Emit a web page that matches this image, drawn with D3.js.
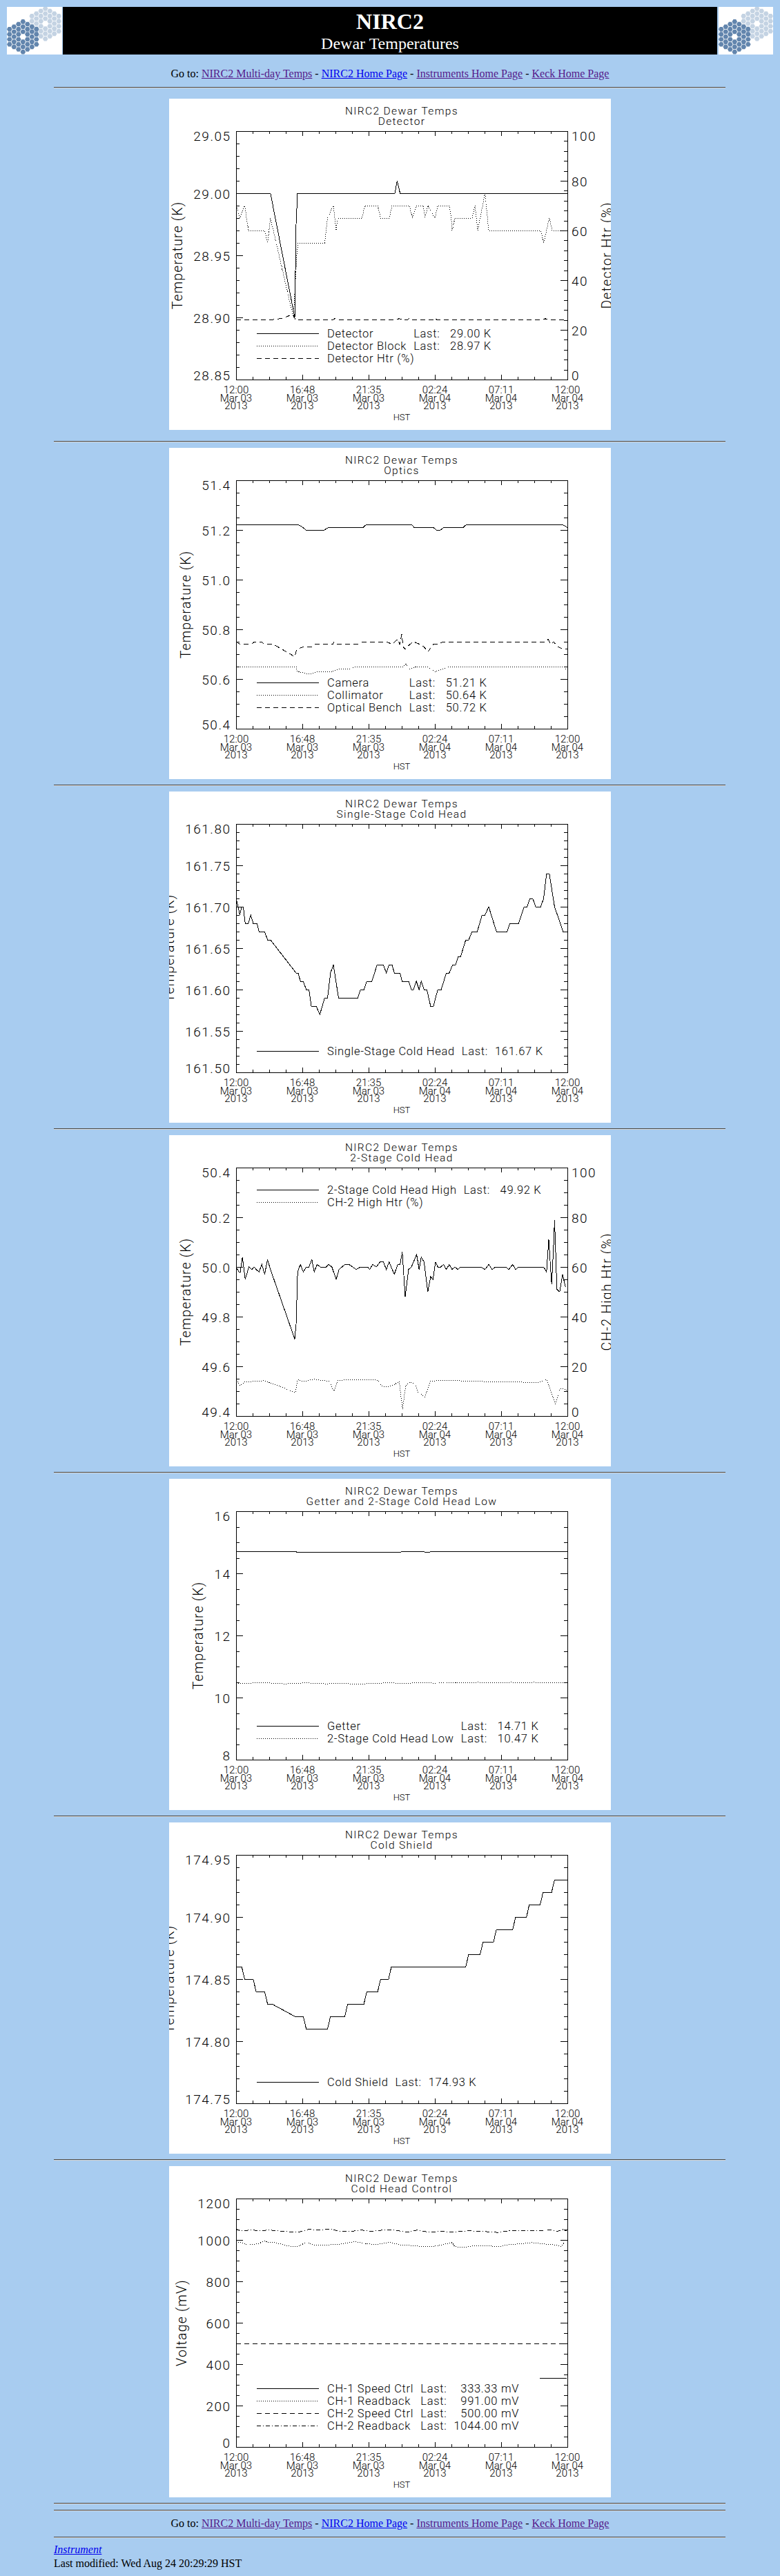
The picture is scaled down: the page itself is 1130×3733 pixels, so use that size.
<!DOCTYPE html>
<html>
<head>
<meta charset="utf-8">
<title>NIRC2 Dewar Temperatures</title>
<script src="https://cdnjs.cloudflare.com/ajax/libs/d3/7.8.5/d3.min.js"></script>
<style>
  body { margin: 0; background: #a8ccf0; font-family: "Liberation Serif", "Times New Roman", serif; font-size: 16px; color: #000; }
  #page { position: relative; width: 1130px; height: 3733px; overflow: hidden; }
  #page > svg, #page > div { position: absolute; }
  .banner { left: 91px; top: 10px; width: 948px; height: 69px; background: #000; color: #fff; text-align: center; }
  .banner .big { position: absolute; left: 0; right: 0; top: 3px; font-size: 32px; line-height: 36px; font-weight: bold; }
  .banner .sub { position: absolute; left: 0; right: 0; top: 39px; font-size: 24px; line-height: 28px; }
  .rule { left: 78px; width: 973px; height: 0; border-top: 1px solid #4a4a4a; border-bottom: 1px solid #d4d4d4; }
  .nav { left: 0; width: 1130px; text-align: center; line-height: 20px; }
  .foot { left: 78px; line-height: 20px; white-space: nowrap; }
  a { text-decoration: underline; }
  a.seen { color: #551a8b; }
  a.fresh { color: #0000ee; }
  .plot text { font-family: Roboto, "DejaVu Sans", sans-serif; font-weight: 300; fill: #000; }
  .plot .tk { font-size: 19px; letter-spacing: 1.5px; }
  .plot .xl { font-size: 15px; }
  .plot .ttl { font-size: 15.5px; letter-spacing: 1.35px; }
  .plot .lg { font-size: 16.5px; letter-spacing: 0.7px; white-space: pre; }
  .plot .at { font-size: 19.5px; letter-spacing: 1.2px; }
  .plot .hst { font-size: 13px; }
</style>
</head>
<body>
<div id="page">
  <div class="banner">
    <div class="big">NIRC2</div>
    <div class="sub">Dewar Temperatures</div>
  </div>
  <div class="nav" style="top:97px">Go to: <a class="seen" href="#">NIRC2 Multi-day Temps</a> - <a class="fresh" href="#">NIRC2 Home Page</a> - <a class="seen" href="#">Instruments Home Page</a> - <a class="seen" href="#">Keck Home Page</a></div>
  <div class="nav" style="top:3647px">Go to: <a class="seen" href="#">NIRC2 Multi-day Temps</a> - <a class="fresh" href="#">NIRC2 Home Page</a> - <a class="seen" href="#">Instruments Home Page</a> - <a class="seen" href="#">Keck Home Page</a></div>
  <div class="foot" style="top:3685px"><a class="fresh" href="#"><i>Instrument</i></a></div>
  <div class="foot" style="top:3705px">Last modified: Wed Aug 24 20:29:29 HST</div>
</div>
<script>
// time axis: hours after 12:00 Mar 03 2013 (HST)
const hourTicks = [0, 4.8, 9.6, 14.4, 19.2, 24];
const xTickTime = ["12:00", "16:48", "21:35", "02:24", "07:11", "12:00"];
const xTickDate = ["Mar 03", "Mar 03", "Mar 03", "Mar 04", "Mar 04", "Mar 04"];
const xTickYear = ["2013", "2013", "2013", "2013", "2013", "2013"];

// Detector
const detectorHours = [0, 2.49, 4.25, 4.35, 4.45, 11.5, 11.67, 11.88, 24];
const detectorK = [29.00, 29.00, 28.90, 28.975, 29.00, 29.00, 29.01, 29.00, 29.00];
const blockHours = [0, 0.3, 0.62, 0.9, 2.07, 2.28, 2.49, 4.15, 4.4, 4.5, 6.42, 6.63, 7.05, 7.25, 7.36, 9.12, 9.33, 10.26, 10.47, 11.09, 11.3, 12.54, 12.79, 13.06, 13.57, 13.68, 13.89, 14.4, 14.61, 15.44, 15.59, 15.65, 15.85, 17.1, 17.3, 17.51, 18.03, 18.3, 22.07, 22.28, 22.69, 22.9, 24];
const blockK = [28.99, 28.98, 28.99, 28.97, 28.97, 28.96, 28.98, 28.90, 28.95, 28.96, 28.96, 28.98, 28.99, 28.97, 28.98, 28.98, 28.99, 28.99, 28.98, 28.98, 28.99, 28.99, 28.98, 28.99, 28.99, 28.98, 28.99, 28.98, 28.99, 28.99, 28.98, 28.97, 28.98, 28.98, 28.99, 28.97, 29.00, 28.97, 28.97, 28.96, 28.98, 28.97, 28.97];
const htrHours = [0, 2.5, 3.3, 3.9, 4.15, 4.3, 7.0, 7.2, 7.5, 11.6, 11.8, 12.4, 12.55, 12.7, 14.25, 14.4, 14.55, 22.2, 22.4, 22.6, 24];
const htrPct = [24, 24, 24.6, 25.8, 26, 24, 24, 24.7, 24, 24, 24.5, 24, 24.6, 24, 24, 24.8, 24, 24, 24.5, 24, 24];
const detectorNames = ["Detector", "Detector Block", "Detector Htr (%)"];
const detectorLast = [" 29.00 K", " 28.97 K", null];

// Optics
const cameraHours = [0, 4.55, 4.85, 5.05, 6.4, 6.7, 9.2, 9.4, 12.75, 12.9, 14.3, 14.5, 14.8, 15.05, 16.45, 16.65, 23.7, 24];
const cameraK = [51.22, 51.22, 51.21, 51.20, 51.20, 51.21, 51.21, 51.22, 51.22, 51.21, 51.21, 51.20, 51.20, 51.21, 51.21, 51.22, 51.22, 51.21];
const collHours = [0, 4.35, 4.45, 5.3, 5.9, 7.0, 7.4, 8.3, 8.6, 12.1, 12.3, 12.6, 13.1, 13.8, 14.1, 14.4, 14.9, 15.4, 23.6, 23.9, 24];
const collK = [50.65, 50.65, 50.63, 50.62, 50.63, 50.63, 50.64, 50.64, 50.65, 50.65, 50.66, 50.64, 50.65, 50.65, 50.64, 50.63, 50.64, 50.65, 50.65, 50.64, 50.64];
const benchHours = [0, 0.3, 1.1, 1.35, 1.8, 2.1, 2.7, 4.25, 4.4, 4.9, 5.5, 5.7, 7.0, 7.1, 7.3, 8.8, 9.2, 10.9, 11.3, 11.7, 11.85, 12.0, 12.1, 12.25, 12.6, 12.85, 13.3, 13.6, 13.9, 14.3, 14.6, 15.0, 22.4, 22.6, 22.8, 23.0, 23.3, 23.7, 24];
const benchK = [50.75, 50.74, 50.74, 50.75, 50.75, 50.74, 50.74, 50.69, 50.72, 50.73, 50.73, 50.74, 50.74, 50.75, 50.74, 50.74, 50.75, 50.75, 50.74, 50.76, 50.74, 50.78, 50.73, 50.72, 50.74, 50.75, 50.74, 50.73, 50.71, 50.74, 50.74, 50.75, 50.75, 50.76, 50.74, 50.75, 50.73, 50.72, 50.72];
const opticsNames = ["Camera", "Collimator", "Optical Bench"];
const opticsLast = [" 51.21 K", " 50.64 K", " 50.72 K"];

// Single-Stage Cold Head
const singleHours = [0, 0.15, 0.27, 0.41, 0.52, 0.66, 0.89, 1.06, 1.24, 1.51, 1.66, 2.07, 2.28, 2.49, 4.35, 4.5, 4.66, 4.87, 5.08, 5.28, 5.45, 5.8, 6.07, 6.42, 6.63, 6.84, 7.05, 7.42, 8.81, 9.02, 9.26, 9.47, 9.84, 10.22, 10.67, 10.88, 11.09, 11.3, 11.46, 11.88, 12.02, 12.5, 12.7, 12.85, 13.06, 13.26, 13.41, 13.62, 13.82, 14.09, 14.3, 14.61, 14.86, 15.23, 15.44, 15.69, 15.9, 16.1, 16.27, 16.64, 16.85, 17.1, 17.47, 17.82, 18.03, 18.3, 18.86, 19.63, 19.83, 20.46, 20.87, 21.08, 21.28, 21.49, 21.7, 22.07, 22.28, 22.49, 22.69, 23.07, 23.69, 23.94];
const singleK = [161.71, 161.70, 161.69, 161.70, 161.70, 161.68, 161.68, 161.69, 161.68, 161.68, 161.67, 161.67, 161.66, 161.66, 161.62, 161.62, 161.61, 161.61, 161.60, 161.60, 161.58, 161.58, 161.57, 161.59, 161.59, 161.62, 161.63, 161.59, 161.59, 161.60, 161.60, 161.61, 161.61, 161.63, 161.63, 161.62, 161.63, 161.63, 161.62, 161.62, 161.61, 161.61, 161.60, 161.60, 161.61, 161.60, 161.61, 161.60, 161.60, 161.58, 161.58, 161.60, 161.60, 161.62, 161.62, 161.63, 161.63, 161.64, 161.64, 161.66, 161.66, 161.67, 161.67, 161.69, 161.69, 161.70, 161.67, 161.67, 161.68, 161.68, 161.70, 161.70, 161.71, 161.71, 161.70, 161.70, 161.71, 161.74, 161.74, 161.70, 161.67, 161.67];
const singleNames = ["Single-Stage Cold Head"];
const singleLast = ["161.67 K"];

// 2-Stage Cold Head
const highHours = [0, 0.21, 0.31, 0.46, 0.66, 0.93, 1.14, 1.31, 1.45, 1.66, 1.87, 2.07, 2.28, 2.49, 4.25, 4.35, 4.46, 4.66, 4.87, 5.08, 5.28, 5.49, 5.66, 5.87, 6.11, 6.53, 6.69, 6.94, 7.25, 7.46, 7.88, 8.19, 8.7, 9.02, 9.53, 9.68, 9.89, 10.16, 10.43, 10.67, 10.88, 11.09, 11.46, 11.71, 11.88, 12.04, 12.25, 12.5, 12.7, 13.08, 13.26, 13.41, 13.62, 13.89, 14.09, 14.26, 14.45, 14.61, 14.82, 15.03, 15.23, 15.44, 15.65, 15.85, 16.06, 16.27, 17.72, 18.03, 18.3, 18.55, 18.8, 19.54, 19.75, 20.04, 20.25, 20.46, 22.28, 22.49, 22.65, 22.86, 23.03, 23.07, 23.24, 23.44, 23.65, 23.86];
const highK = [50.00, 49.98, 49.98, 50.04, 49.95, 50.00, 49.99, 50.00, 49.99, 49.98, 50.01, 49.97, 50.03, 49.99, 49.71, 49.77, 49.98, 50.01, 49.98, 50.00, 50.00, 50.03, 49.98, 50.01, 50.00, 50.00, 50.01, 50.00, 49.95, 49.99, 50.01, 50.01, 49.99, 50.00, 50.00, 49.99, 50.01, 50.00, 50.02, 50.02, 49.99, 50.02, 49.97, 50.01, 50.01, 50.06, 49.88, 49.99, 50.00, 50.05, 49.99, 50.04, 50.02, 49.90, 49.96, 49.95, 50.02, 50.00, 50.00, 50.01, 49.99, 50.01, 49.99, 50.00, 49.99, 50.00, 50.00, 49.99, 50.01, 49.99, 50.00, 50.00, 49.99, 50.01, 49.99, 50.00, 50.00, 49.98, 50.11, 49.93, 50.12, 50.19, 49.91, 49.90, 49.97, 49.92];
const ch2HtrHours = [0, 0.31, 0.62, 2.07, 4.29, 4.46, 4.87, 5.7, 6.74, 7.09, 7.36, 9.43, 10.26, 10.57, 10.98, 11.5, 11.81, 12.06, 12.29, 12.64, 12.95, 13.2, 13.68, 14.09, 14.82, 17.72, 21.86, 22.49, 22.8, 23.11, 23.48, 23.94];
const ch2HtrPct = [14.6, 12.3, 13.7, 14.2, 9.5, 14.6, 13.9, 14.8, 13.9, 10.0, 14.4, 14.6, 14.4, 12.0, 11.7, 12.8, 13.9, 2.8, 12.3, 13.7, 12.8, 9.5, 7.7, 13.9, 14.4, 13.9, 13.5, 14.8, 10.0, 4.9, 11.1, 10.5];
const twoStageNames = ["2-Stage Cold Head High", "CH-2 High Htr (%)"];
const twoStageLast = [" 49.92 K", null];

// Getter and 2-Stage Cold Head Low
const getterHours = [0, 4.3, 4.4, 11.9, 12.0, 13.6, 13.7, 14.0, 14.1, 24];
const getterK = [14.71, 14.71, 14.68, 14.68, 14.70, 14.70, 14.67, 14.67, 14.70, 14.71];
const lowHours = [0, 0.7, 1.3, 2.0, 2.8, 3.5, 4.2, 5.0, 5.8, 6.5, 7.2, 8.0, 8.8, 9.6, 10.4, 11.2, 12.0, 12.8, 13.6, 14.4, 15.2, 16.0, 16.8, 17.6, 18.4, 19.2, 20.0, 20.8, 21.6, 22.4, 23.2, 24];
const lowK = [10.47, 10.45, 10.47, 10.48, 10.46, 10.44, 10.46, 10.47, 10.46, 10.44, 10.46, 10.45, 10.43, 10.45, 10.46, 10.48, 10.45, 10.47, 10.48, 10.46, 10.49, 10.47, 10.48, 10.49, 10.47, 10.48, 10.49, 10.47, 10.49, 10.48, 10.47, 10.47];
const getterNames = ["Getter", "2-Stage Cold Head Low"];
const getterLast = [" 14.71 K", " 10.47 K"];

// Cold Shield
const shieldHours = [0, 0.41, 0.62, 1.24, 1.45, 2.07, 2.28, 2.59, 4.25, 4.87, 5.08, 6.63, 6.84, 7.88, 8.08, 9.26, 9.47, 10.26, 10.47, 11.05, 11.25, 16.64, 16.85, 17.68, 17.89, 18.65, 18.86, 20.04, 20.25, 21.04, 21.24, 22.03, 22.24, 22.86, 23.07, 23.94];
const shieldK = [174.86, 174.86, 174.85, 174.85, 174.84, 174.84, 174.83, 174.83, 174.82, 174.82, 174.81, 174.81, 174.82, 174.82, 174.83, 174.83, 174.84, 174.84, 174.85, 174.85, 174.86, 174.86, 174.87, 174.87, 174.88, 174.88, 174.89, 174.89, 174.90, 174.90, 174.91, 174.91, 174.92, 174.92, 174.93, 174.93];
const shieldNames = ["Cold Shield"];
const shieldLast = ["174.93 K"];

// Cold Head Control
const speed1Hours = [22.0, 23.95];
const speed1mV = [333.33, 333.33];
const read1Hours = [0, 0.31, 0.93, 1.55, 2.07, 2.38, 2.8, 3.21, 3.83, 4.46, 5.08, 5.7, 6.53, 7.36, 7.98, 8.6, 9.43, 10.26, 11.09, 11.92, 12.75, 13.57, 14.4, 15.23, 15.65, 15.85, 16.48, 17.3, 18.13, 18.96, 19.79, 20.62, 21.45, 22.28, 23.11, 23.52, 23.83];
const read1mV = [992, 987, 976, 981, 994, 987, 987, 981, 970, 970, 987, 976, 976, 978, 984, 992, 981, 978, 989, 976, 973, 967, 970, 981, 987, 967, 964, 973, 973, 967, 978, 981, 987, 981, 976, 970, 991];
const speed2Hours = [0, 24];
const speed2mV = [500, 500];
const read2Hours = [0, 0.31, 1.14, 1.76, 2.38, 3.0, 3.83, 4.66, 5.28, 6.11, 6.74, 7.36, 8.19, 9.02, 9.84, 10.67, 11.5, 12.33, 13.16, 13.99, 14.82, 15.65, 16.89, 17.72, 18.96, 19.79, 20.83, 21.86, 22.69, 23.32, 23.63, 23.94];
const read2mV = [1053, 1044, 1048, 1044, 1048, 1044, 1040, 1040, 1051, 1048, 1053, 1044, 1040, 1048, 1042, 1048, 1048, 1037, 1048, 1037, 1042, 1038, 1044, 1042, 1036, 1044, 1044, 1044, 1048, 1042, 1051, 1044];
const controlNames = ["CH-1 Speed Ctrl", "CH-1 Readback", "CH-2 Speed Ctrl", "CH-2 Readback"];
const controlLast = [" 333.33 mV", " 991.00 mV", " 500.00 mV", "1044.00 mV"];

const dashes = { solid: null, dot: "1,2", dash: "7,5", dashdot: "6,3,1,3" };

const charts = [
  { top: 143, sub: "Detector", yDomain: [28.85, 29.05], yStep: 0.05, yMinor: 0.01, yFmt: ".2f", yTitle: "Temperature (K)",
    right: { domain: [0, 100], step: 20, minor: 4, title: "Detector Htr (%)" },
    names: detectorNames, lasts: detectorLast,
    series: [[detectorHours, detectorK, "solid"], [blockHours, blockK, "dot"], [htrHours, htrPct, "dash", "right"]] },
  { top: 649, sub: "Optics", yDomain: [50.4, 51.4], yStep: 0.2, yMinor: 0.05, yFmt: ".1f", yTitle: "Temperature (K)",
    names: opticsNames, lasts: opticsLast,
    series: [[cameraHours, cameraK, "solid"], [collHours, collK, "dot"], [benchHours, benchK, "dash"]] },
  { top: 1147, sub: "Single-Stage Cold Head", yDomain: [161.5, 161.8], yStep: 0.05, yMinor: 0.01, yFmt: ".2f", yTitle: "Temperature (K)",
    names: singleNames, lasts: singleLast,
    series: [[singleHours, singleK, "solid"]] },
  { top: 1645, sub: "2-Stage Cold Head", yDomain: [49.4, 50.4], yStep: 0.2, yMinor: 0.05, yFmt: ".1f", yTitle: "Temperature (K)",
    right: { domain: [0, 100], step: 20, minor: 5, title: "CH-2 High Htr (%)" }, legendTop: true,
    names: twoStageNames, lasts: twoStageLast,
    series: [[highHours, highK, "solid"], [ch2HtrHours, ch2HtrPct, "dot", "right"]] },
  { top: 2143, sub: "Getter and 2-Stage Cold Head Low", yDomain: [8, 16], yStep: 2, yMinor: 0.5, yFmt: "d", yTitle: "Temperature (K)",
    names: getterNames, lasts: getterLast,
    series: [[getterHours, getterK, "solid"], [lowHours, lowK, "dot"]] },
  { top: 2641, sub: "Cold Shield", yDomain: [174.75, 174.95], yStep: 0.05, yMinor: 0.01, yFmt: ".2f", yTitle: "Temperature (K)",
    names: shieldNames, lasts: shieldLast,
    series: [[shieldHours, shieldK, "solid"]] },
  { top: 3139, sub: "Cold Head Control", yDomain: [0, 1200], yStep: 200, yMinor: 50, yFmt: "d", yTitle: "Voltage (mV)",
    names: controlNames, lasts: controlLast,
    series: [[speed1Hours, speed1mV, "solid"], [read1Hours, read1mV, "dot"], [speed2Hours, speed2mV, "dash"], [read2Hours, read2mV, "dashdot"]] }
];

const page = d3.select("#page");
const steps = (d, s) => d3.range(Math.round((d[1] - d[0]) / s) + 1).map(i => +(d[0] + i * s).toFixed(6));

// keck mirror logos
function drawLogo(left, w) {
  const s = page.append("svg").attr("width", w).attr("height", 69)
    .style("left", left + "px").style("top", "10px");
  s.append("rect").attr("width", w).attr("height", 69).attr("fill", "#fff");
  const mirrors = [{ cx: 55.7, cy: 24.3, fill: "#c4d3e3" }, { cx: 23.3, cy: 43.3, fill: "#6285ad" }];
  const hex = d3.range(6).map(i => [3.8 * Math.cos(i * Math.PI / 3), 3.8 * Math.sin(i * Math.PI / 3)]);
  mirrors.forEach(m => {
    for (let k = -3; k <= 3; k++) {
      const n = 7 - Math.abs(k);
      for (let j = 0; j < n; j++) {
        if (k === 0 && j === 3) continue;
        const cx = m.cx + k * 6.5, cy = m.cy + (j - (n - 1) / 2) * 7.3;
        s.append("path").attr("d", "M" + hex.map(p => [cx + p[0], cy + p[1]].join(",")).join("L") + "Z")
          .attr("fill", m.fill);
      }
    }
  });
}
drawLogo(10, 80);
drawLogo(1041, 79);

// horizontal rules
[126, 639, 1137, 1635, 2133, 2631, 3129, 3627, 3637, 3676].forEach(t =>
  page.append("div").attr("class", "rule").style("top", t + "px"));

function drawChart(c, idx) {
  const W = 640, H = 480, L = 97, R = 577, T = 47, B = 407;
  const svg = page.append("svg").attr("class", "plot")
    .attr("width", W).attr("height", H)
    .style("left", "245px").style("top", c.top + "px");
  svg.append("rect").attr("width", W).attr("height", H).attr("fill", "#fff");

  const x = d3.scaleLinear().domain([0, 24]).range([L, R]);
  const y = d3.scaleLinear().domain(c.yDomain).range([B, T]);
  const yR = c.right ? d3.scaleLinear().domain(c.right.domain).range([B, T]) : y;

  svg.append("clipPath").attr("id", "clip" + idx)
    .append("rect").attr("x", L).attr("y", T).attr("width", R - L).attr("height", B - T);

  // data lines
  c.series.forEach(s => {
    const sc = s[3] === "right" ? yR : y;
    const line = d3.line().x(d => x(d[0])).y(d => sc(d[1]));
    svg.append("path").datum(d3.zip(s[0], s[1]))
      .attr("d", line).attr("fill", "none").attr("stroke", "#000").attr("stroke-width", 1)
      .attr("stroke-dasharray", dashes[s[2]]).attr("shape-rendering", "crispEdges")
      .attr("clip-path", `url(#clip${idx})`);
  });

  const minorX = steps([0, 24], 1.2);
  const clean = g => g.attr("font-size", null).attr("font-family", null);
  const noDomain = g => g.select(".domain").remove();

  // frame and ticks (IDL style, inward on all four sides)
  svg.append("g").attr("transform", `translate(0,${B})`)
    .call(d3.axisBottom(x).tickValues(hourTicks).tickSize(-7).tickSizeOuter(0).tickFormat("")).call(clean);
  svg.append("g").attr("transform", `translate(0,${B})`)
    .call(d3.axisBottom(x).tickValues(minorX).tickSize(-3.6).tickFormat("")).call(noDomain);
  svg.append("g").attr("transform", `translate(0,${T})`)
    .call(d3.axisTop(x).tickValues(hourTicks).tickSize(-7).tickSizeOuter(0).tickFormat(""));
  svg.append("g").attr("transform", `translate(0,${T})`)
    .call(d3.axisTop(x).tickValues(minorX).tickSize(-3.6).tickFormat("")).call(noDomain);

  const gl = svg.append("g").attr("transform", `translate(${L},0)`)
    .call(d3.axisLeft(y).tickValues(steps(c.yDomain, c.yStep)).tickSize(-9.6).tickSizeOuter(0)
      .tickPadding(7.5).tickFormat(d3.format(c.yFmt))).call(clean);
  gl.selectAll("text").attr("class", "tk")
    .attr("dy", d => d === c.yDomain[1] ? 13.5 : d === c.yDomain[0] ? 0 : 7);
  svg.append("g").attr("transform", `translate(${L},0)`)
    .call(d3.axisLeft(y).tickValues(steps(c.yDomain, c.yMinor)).tickSize(-4.8).tickFormat("")).call(noDomain);

  let gr;
  if (c.right) {
    gr = svg.append("g").attr("transform", `translate(${R},0)`)
      .call(d3.axisRight(yR).tickValues(steps(c.right.domain, c.right.step)).tickSize(-9.6).tickSizeOuter(0)
        .tickPadding(6).tickFormat(d3.format("d"))).call(clean);
    gr.selectAll("text").attr("class", "tk")
      .attr("dy", d => d === c.right.domain[1] ? 13.5 : d === c.right.domain[0] ? 0 : 7);
    svg.append("g").attr("transform", `translate(${R},0)`)
      .call(d3.axisRight(yR).tickValues(steps(c.right.domain, c.right.minor)).tickSize(-4.8).tickFormat("")).call(noDomain);
  } else {
    svg.append("g").attr("transform", `translate(${R},0)`)
      .call(d3.axisRight(y).tickValues(steps(c.yDomain, c.yStep)).tickSize(-9.6).tickSizeOuter(0).tickFormat(""));
    svg.append("g").attr("transform", `translate(${R},0)`)
      .call(d3.axisRight(y).tickValues(steps(c.yDomain, c.yMinor)).tickSize(-4.8).tickFormat("")).call(noDomain);
  }
  svg.selectAll(".tick line, .domain").attr("stroke", "#000").attr("shape-rendering", "crispEdges");

  // x tick labels: time / date / year
  [xTickTime, xTickDate, xTickYear].forEach((labels, row) => {
    svg.append("g").selectAll("text").data(hourTicks).join("text")
      .attr("class", "xl").attr("x", d => x(d)).attr("y", B + 20 + row * 11.5)
      .attr("text-anchor", "middle").text((d, i) => labels[i]);
  });
  svg.append("text").attr("class", "hst").attr("x", (L + R) / 2).attr("y", 465.5)
    .attr("text-anchor", "middle").text("HST");

  // titles
  svg.append("text").attr("class", "ttl").attr("x", (L + R) / 2).attr("y", 23)
    .attr("text-anchor", "middle").text("NIRC2 Dewar Temps");
  svg.append("text").attr("class", "ttl").attr("x", (L + R) / 2).attr("y", 37.5)
    .attr("text-anchor", "middle").text(c.sub);

  const minX = L + d3.min(gl.selectAll("text").nodes(), n => n.getBBox().x);
  svg.append("text").attr("class", "at")
    .attr("transform", `translate(${minX - 16.5},${(T + B) / 2}) rotate(-90)`)
    .attr("text-anchor", "middle").text(c.yTitle);
  if (c.right) {
    const maxX = R + d3.max(gr.selectAll("text").nodes(), n => { const b = n.getBBox(); return b.x + b.width; });
    svg.append("text").attr("class", "at")
      .attr("transform", `translate(${maxX + 22},${(T + B) / 2}) rotate(-90)`)
      .attr("text-anchor", "middle").text(c.right.title);
  }

  // legend
  const n = c.names.length;
  const rowY = i => c.legendTop ? 79 + i * 18 : 376 - (n - 1 - i) * 18;
  const lg = svg.append("g");
  const nameText = c.names.map((name, i) => {
    lg.append("line").attr("x1", 127).attr("x2", 217).attr("y1", rowY(i)).attr("y2", rowY(i))
      .attr("stroke", "#000").attr("stroke-dasharray", dashes[c.series[i][2]]).attr("shape-rendering", "crispEdges");
    return lg.append("text").attr("class", "lg").attr("x", 229).attr("y", rowY(i) + 5.9).text(name);
  });
  const withLast = d3.range(n).filter(i => c.lasts[i] !== null);
  const nameW = d3.max(withLast, i => nameText[i].node().getComputedTextLength());
  const lastX = 229 + nameW + 10;
  const lastText = withLast.map(i => lg.append("text").attr("class", "lg").attr("x", lastX).attr("y", rowY(i) + 5.9).text("Last:"));
  const lastW = d3.max(lastText, t => t.node().getComputedTextLength());
  const valText = withLast.map(i => lg.append("text").attr("class", "lg").attr("y", rowY(i) + 5.9)
    .attr("text-anchor", "end").text(c.lasts[i]));
  const valW = d3.max(valText, t => t.node().getComputedTextLength());
  valText.forEach(t => t.attr("x", lastX + lastW + 10 + valW));
}

charts.forEach(drawChart);
</script>
</body>
</html>
